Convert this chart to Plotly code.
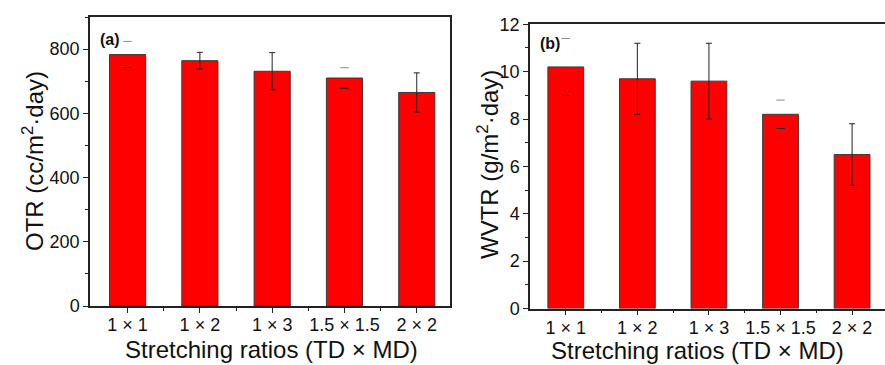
import plotly.graph_objects as go

categories = ["1 × 1", "1 × 2", "1 × 3", "1.5 × 1.5", "2 × 2"]
otr_values = [783, 764, 731, 710, 665]
otr_errors = [41, 26, 58, 32, 61]
wvtr_values = [10.2, 9.7, 9.6, 8.2, 6.5]
wvtr_errors = [1.2, 1.5, 1.6, 0.6, 1.3]
# bars whose whisker line is not visible in the reference (only caps drawn)
caps_only = [0, 3]

otr_ticks = [0, 200, 400, 600, 800]
wvtr_ticks = [0, 2, 4, 6, 8, 10, 12]

xpos = list(range(len(categories)))
FONT = "Liberation Sans, Arial, sans-serif"
AX = "#222222"
W, H = 885, 365

fig = go.Figure()


def add_panel(vals, errs, xa, ya):
    full_idx = [i for i in xpos if i not in caps_only]
    fig.add_trace(go.Bar(
        x=xpos, y=vals, width=0.5,
        marker=dict(color="#ff0000", line=dict(color="#3a3a3a", width=1)),
        xaxis=xa, yaxis=ya, showlegend=False))
    # whiskers for the bars whose error line is drawn
    fig.add_trace(go.Scatter(
        x=[xpos[i] for i in full_idx], y=[vals[i] for i in full_idx],
        mode="markers", marker=dict(size=1, color="rgba(0,0,0,0)"),
        error_y=dict(type="data", array=[errs[i] for i in full_idx],
                     visible=True, color="#222222", thickness=1, width=3),
        xaxis=xa, yaxis=ya, showlegend=False, hoverinfo="skip"))
    cx = [xpos[i] for i in caps_only]
    up = [vals[i] + errs[i] for i in caps_only]
    lo = [vals[i] - errs[i] for i in caps_only]
    fig.add_trace(go.Scatter(
        x=cx, y=up, mode="markers",
        marker=dict(symbol="line-ew", size=6, line=dict(color="#8a8a8a", width=1)),
        xaxis=xa, yaxis=ya, showlegend=False, hoverinfo="skip"))
    fig.add_trace(go.Scatter(
        x=cx, y=lo, mode="markers",
        marker=dict(symbol="line-ew", size=6, line=dict(color="#222222", width=1)),
        xaxis=xa, yaxis=ya, showlegend=False, hoverinfo="skip"))


add_panel(otr_values, otr_errors, "x", "y")
add_panel(wvtr_values, wvtr_errors, "x2", "y2")

tickfont = dict(family=FONT, size=18, color="#111")
mid = [i + 0.5 for i in xpos[:-1]]

common_x = dict(tickmode="array", tickvals=xpos, ticktext=categories,
                ticks="outside", ticklen=5, tickwidth=1.2, tickcolor=AX,
                showline=True, linecolor=AX, linewidth=1.5,
                showgrid=False, zeroline=False, tickfont=tickfont,
                automargin=False, ticklabelstandoff=-3,
                minor=dict(tickmode="array", tickvals=mid, ticks="outside",
                           ticklen=3, tickwidth=1, tickcolor=AX))
common_y = dict(ticks="outside", ticklen=5, tickwidth=1.2, tickcolor=AX,
                showline=True, linecolor=AX, linewidth=1.5,
                showgrid=False, zeroline=False, tickfont=tickfont,
                automargin=False)

fig.update_layout(
    width=W, height=H,
    margin=dict(l=0, r=0, t=0, b=0, pad=0, autoexpand=False),
    paper_bgcolor="white", plot_bgcolor="white",
    bargap=0.5,
    xaxis=dict(domain=[90 / W, 450 / W], range=[-0.52, 4.46], anchor="y",
               mirror=True, **common_x),
    yaxis=dict(domain=[59 / H, 348 / H], range=[0, 900], anchor="x",
               tickvals=otr_ticks, mirror=True,
               minor=dict(dtick=100, tick0=100, ticks="outside", ticklen=3,
                          tickwidth=1, tickcolor=AX),
               **common_y),
    xaxis2=dict(domain=[530 / W, 1.0], range=[-0.5, 4.46], anchor="y2",
                mirror=True, **common_x),
    yaxis2=dict(domain=[56.5 / H, 340.7 / H], range=[0, 12], anchor="x2",
                tickvals=wvtr_ticks, mirror=False,
                minor=dict(dtick=1, tick0=1, ticks="outside", ticklen=3,
                           tickwidth=1, tickcolor=AX),
                **common_y),
)

title_font = dict(family=FONT, size=24, color="#111")
label_font = dict(family=FONT, size=16, color="#111")


def ann(text, px, py, font, angle=0):
    fig.add_annotation(text=text, x=px / W, y=1 - py / H, xref="paper",
                       yref="paper", xanchor="center", yanchor="middle",
                       showarrow=False, textangle=angle, font=font)


ann("Stretching ratios (TD × MD)", 271, 349, title_font)
ann("Stretching ratios (TD × MD)", 697, 350, title_font)
ann("OTR (cc/m<sup>2</sup>·day)", 33, 161, title_font, -90)
ann("WVTR (g/m<sup>2</sup>·day)", 488, 165, title_font, -90)
ann("<b>(a)</b>", 110, 39, label_font)
ann("<b>(b)</b>", 550, 44, label_font)

fig.write_html("out.html")
